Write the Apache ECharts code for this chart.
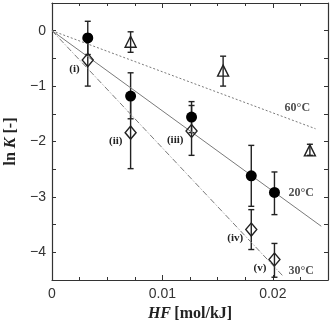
<!DOCTYPE html>
<html>
<head>
<meta charset="utf-8">
<script src="https://cdn.jsdelivr.net/npm/echarts@6/dist/echarts.min.js"></script>
<style>
  html, body { margin: 0; padding: 0; background: #fff; }
  #chart { width: 332px; height: 322px; }
</style>
</head>
<body>
<div id="chart"></div>
<script>
// HF [mol/kJ] positions of the measurements
const hfFive = [0.00324, 0.00712, 0.01264, 0.01805, 0.02015]
const hfTri = [0.00712, 0.0155, 0.02336]

// 20 °C (filled circles)
const lnK20 = [-0.13, -1.18, -1.56, -2.62, -2.92]
const lnK20Hi = [0.17, -0.76, -1.28, -2.07, -2.55]
const lnK20Lo = [-0.43, -1.59, -1.84, -3.17, -3.32]

// 30 °C (open diamonds)
const lnK30 = [-0.53, -1.84, -1.81, -3.59, -4.13]
const lnK30Hi = [-0.06, -1.18, -1.35, -3.23, -3.84]
const lnK30Lo = [-1.0, -2.49, -2.25, -3.95, -4.45]
const romanLabels = ['(i)', '(ii)', '(iii)', '(iv)', '(v)']

// 60 °C (open triangles)
const lnK60 = [-0.2, -0.72, -2.16]
const lnK60Hi = [-0.02, -0.46, -2.05]
const lnK60Lo = [-0.39, -1.0, -2.25]

// fitted lines through the origin: [hf, lnK] end points
const fit60 = [[0, 0], [0.02387, -1.77]]
const fit20 = [[0, 0], [0.02439, -3.53]]
const fit30 = [[0, 0], [0.02093, -4.43]]

// temperature labels
const tempNames = ['60°C', '20°C', '30°C']
const tempPos = [[0.02222, -1.39], [0.02258, -2.92], [0.02258, -4.34]]

const chart = echarts.init(document.getElementById('chart'))

const SERIF = '"Liberation Serif", "DejaVu Serif", serif'
const SANS = '"Liberation Sans", Arial, sans-serif'
const INK = '#222'
const FIT = '#7a7a7a'

function errData(xs, hi, lo) {
  return xs.map((x, i) => [x, lo[i], hi[i]])
}

function renderErr(params, api) {
  const x = api.value(0)
  const bot = api.coord([x, api.value(1)])
  const top = api.coord([x, api.value(2)])
  const cap = 3
  const style = { stroke: INK, lineWidth: 1.4, fill: null }
  return {
    type: 'group',
    children: [
      { type: 'line', shape: { x1: top[0], y1: top[1], x2: bot[0], y2: bot[1] }, style },
      { type: 'line', shape: { x1: top[0] - cap, y1: top[1], x2: top[0] + cap, y2: top[1] }, style },
      { type: 'line', shape: { x1: bot[0] - cap, y1: bot[1], x2: bot[0] + cap, y2: bot[1] }, style }
    ]
  }
}

const axisLine = { show: true, onZero: false, lineStyle: { color: '#333', width: 1.2 } }

function xAxisCfg(pos, labels) {
  return {
    type: 'value', position: pos, min: 0, max: 0.025, interval: 0.01,
    axisLine,
    axisTick: { show: true, inside: true, length: 5, lineStyle: { color: '#333' } },
    minorTick: { show: true, splitNumber: 4, length: 3, lineStyle: { color: '#333' } },
    splitLine: { show: false },
    axisLabel: {
      show: labels, color: '#333', fontFamily: SANS, fontSize: 14, margin: 7,
      showMaxLabel: false,
      formatter: v => (v === 0 ? '0' : v > 0.024 ? '' : String(+v.toFixed(3)))
    }
  }
}

function yAxisCfg(pos, labels) {
  return {
    type: 'value', position: pos, min: -4.5, max: 0.5, interval: 0.5,
    axisLine,
    axisTick: { show: true, inside: true, length: 4, lineStyle: { color: '#333' } },
    splitLine: { show: false },
    axisLabel: {
      show: labels, color: '#333', fontFamily: SANS, fontSize: 14, margin: 6,
      formatter: v => {
        if (Math.abs(v - Math.round(v)) > 1e-6) return ''
        const r = Math.round(v)
        return r < 0 ? '\u2212' + (-r) : String(r)
      }
    }
  }
}

const xBottom = xAxisCfg('bottom', true)
xBottom.name = '{bi|HF} {b|[mol/kJ]}'
xBottom.nameLocation = 'middle'
xBottom.nameGap = 25
xBottom.nameTextStyle = {
  rich: {
    bi: { fontFamily: SERIF, fontSize: 16, fontWeight: 'bold', fontStyle: 'italic', color: INK },
    b: { fontFamily: SERIF, fontSize: 16, fontWeight: 'bold', color: INK }
  }
}

const yLeft = yAxisCfg('left', true)
yLeft.name = '{b|ln }{bi|K}{b| [-]}'
yLeft.nameLocation = 'middle'
yLeft.nameRotate = 90
yLeft.nameGap = 31
yLeft.nameTextStyle = {
  rich: {
    bi: { fontFamily: SERIF, fontSize: 16, fontWeight: 'bold', fontStyle: 'italic', color: INK },
    b: { fontFamily: SERIF, fontSize: 16, fontWeight: 'bold', color: INK }
  }
}

const markerStyle = { color: 'transparent', borderColor: INK, borderWidth: 1.4, opacity: 1 }

chart.setOption({
  animation: false,
  backgroundColor: '#fff',
  grid: { left: 52, right: 4, top: 3, bottom: 42, containLabel: false, outerBoundsMode: 'none' },
  xAxis: [xBottom, xAxisCfg('top', false)],
  yAxis: [yLeft, yAxisCfg('right', false)],
  series: [
    {
      type: 'line', data: fit60, symbol: 'none', silent: true,
      lineStyle: { color: FIT, width: 1, type: [2, 2] }
    },
    {
      type: 'line', data: fit20, symbol: 'none', silent: true,
      lineStyle: { color: FIT, width: 1, type: 'solid' }
    },
    {
      type: 'line', data: fit30, symbol: 'none', silent: true,
      lineStyle: { color: FIT, width: 1, type: [6, 2, 1, 2] }
    },
    { type: 'custom', renderItem: renderErr, data: errData(hfFive, lnK20Hi, lnK20Lo), z: 3 },
    { type: 'custom', renderItem: renderErr, data: errData(hfFive, lnK30Hi, lnK30Lo), z: 3 },
    { type: 'custom', renderItem: renderErr, data: errData(hfTri, lnK60Hi, lnK60Lo), z: 3 },
    {
      type: 'scatter', data: hfFive.map((x, i) => [x, lnK20[i]]),
      symbol: 'circle', symbolSize: 11, itemStyle: { color: '#000', opacity: 1 }, z: 5
    },
    {
      type: 'scatter', data: hfFive.map((x, i) => [x, lnK30[i]]),
      symbol: 'diamond', symbolSize: [11, 13], itemStyle: markerStyle, z: 5,
      label: {
        show: true, position: 'left', distance: 2, offset: [0, 9],
        formatter: p => romanLabels[p.dataIndex],
        fontFamily: SERIF, fontWeight: 'bold', fontSize: 11, color: INK
      }
    },
    {
      type: 'scatter', data: hfTri.map((x, i) => [x, lnK60[i]]),
      symbol: 'triangle', symbolSize: [11, 11], itemStyle: markerStyle, z: 5
    },
    {
      type: 'scatter', data: tempPos, symbolSize: 0, silent: true, z: 6,
      label: {
        show: true, position: 'inside',
        formatter: p => tempNames[p.dataIndex],
        fontFamily: SERIF, fontWeight: 'bold', fontSize: 12, color: INK
      }
    }
  ]
})
</script>
</body>
</html>
